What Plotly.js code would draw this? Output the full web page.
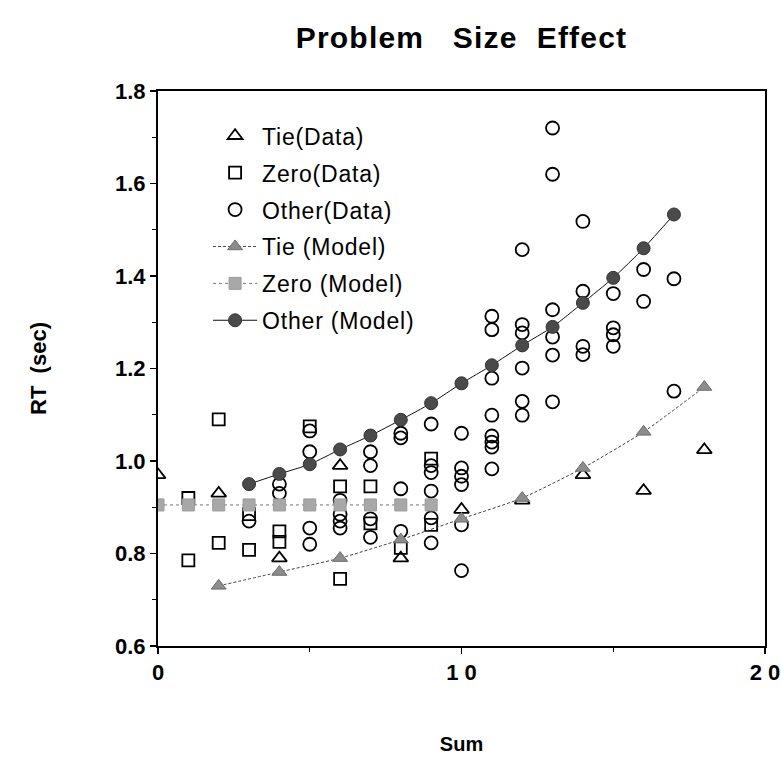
<!DOCTYPE html>
<html>
<head>
<meta charset="utf-8">
<script src="https://cdn.plot.ly/plotly-3.0.1.min.js"></script>
<style>
body{margin:0;padding:0;background:#fff;}
.legendtext{letter-spacing:0.8px;}
.gtitle{letter-spacing:1.2px;}
</style>
</head>
<body>
<div id="chart" style="width:781px;height:757px;"></div>
<script>
// Tie problems (data)
const tieX = [0, 2, 4, 6, 8, 10, 12, 14, 16, 18];
const tieY = [0.97, 0.93, 0.79, 0.99, 0.79, 0.895, 0.915, 0.97, 0.936, 1.024];

// Zero problems (data)
const zeroX = [1, 1, 2, 2, 3, 3, 4, 4, 5, 6, 6, 7, 7, 8, 9, 9];
const zeroY = [0.92, 0.785, 1.09, 0.823, 0.885, 0.808, 0.848, 0.825, 1.075, 0.945, 0.745, 0.945, 0.865, 0.812, 1.005, 0.862];

// Other problems (data)
const otherX = [3,
  4, 4,
  5, 5, 5, 5,
  6, 6, 6, 6,
  7, 7, 7, 7,
  8, 8, 8, 8,
  9, 9, 9, 9, 9, 9,
  10, 10, 10, 10, 10, 10,
  11, 11, 11, 11, 11, 11, 11, 11,
  12, 12, 12, 12, 12, 12,
  13, 13, 13, 13, 13, 13,
  14, 14, 14, 14,
  15, 15, 15, 15,
  16, 16,
  17, 17];
const otherY = [0.87,
  0.95, 0.93,
  1.065, 1.02, 0.855, 0.82,
  0.915, 0.885, 0.87, 0.855,
  1.02, 0.99, 0.875, 0.835,
  1.06, 1.05, 0.94, 0.848,
  1.08, 0.99, 0.975, 0.935, 0.877, 0.823,
  1.06, 0.985, 0.967, 0.949, 0.862, 0.763,
  1.313, 1.284, 1.179, 1.099, 1.054, 1.041, 1.03, 0.983,
  1.457, 1.295, 1.277, 1.201, 1.129, 1.099,
  1.72, 1.62, 1.327, 1.268, 1.229, 1.128,
  1.518, 1.367, 1.248, 1.23,
  1.362, 1.288, 1.273, 1.248,
  1.414, 1.345,
  1.394, 1.151];

// Model predictions
const tieModelX = [2, 4, 6, 8, 10, 12, 14, 16, 18];
const tieModelY = [0.73, 0.76, 0.79, 0.83, 0.875, 0.92, 0.985, 1.063, 1.16];
const zeroModelX = [0, 1, 2, 3, 4, 5, 6, 7, 8, 9];
const zeroModelY = [0.905, 0.905, 0.905, 0.905, 0.905, 0.905, 0.905, 0.905, 0.905, 0.905];
const otherModelX = [3, 4, 5, 6, 7, 8, 9, 10, 11, 12, 13, 14, 15, 16, 17];
const otherModelY = [0.95, 0.972, 0.993, 1.025, 1.055, 1.089, 1.125, 1.168, 1.207, 1.25, 1.29, 1.342, 1.396, 1.46, 1.533];

const seriesNames = ['Tie(Data)', 'Zero(Data)', 'Other(Data)', 'Tie (Model)', 'Zero (Model)', 'Other (Model)'];
const xTickVals = [0, 10, 20];
const xTickText = ['0', '1\u00a00', '2\u00a00'];

const FONT = 'Liberation Sans, Arial, sans-serif';
const openMarker = (sym, size) => ({symbol: sym, size: size, color: '#000', line: {color: '#000', width: 1.8}});

const traces = [
  {x: tieX, y: tieY, name: seriesNames[0], mode: 'markers', legendgroup: 'a',
   marker: openMarker('triangle-up-open', 13)},
  {x: zeroX, y: zeroY, name: seriesNames[1], mode: 'markers', legendgroup: 'b',
   marker: openMarker('square-open', 12)},
  {x: otherX, y: otherY, name: seriesNames[2], mode: 'markers', legendgroup: 'c',
   marker: openMarker('circle-open', 13)},
  {x: tieModelX, y: tieModelY, name: seriesNames[3], mode: 'lines+markers', legendgroup: 'd',
   line: {color: '#444', width: 1, dash: '3px,2px', shape: 'spline', smoothing: 0.6},
   marker: {symbol: 'triangle-up', size: 13, color: '#8c8c8c', line: {color: '#6e6e6e', width: 1}}},
  {x: zeroModelX, y: zeroModelY, name: seriesNames[4], mode: 'lines+markers', legendgroup: 'e',
   line: {color: '#777', width: 1, dash: 'dot'},
   marker: {symbol: 'square', size: 12, color: '#a8a8a8', line: {color: '#9a9a9a', width: 1}}},
  {x: otherModelX, y: otherModelY, name: seriesNames[5], mode: 'lines+markers', legendgroup: 'f',
   line: {color: '#111', width: 1, shape: 'spline', smoothing: 0.6},
   marker: {symbol: 'circle', size: 13, color: '#4a4a4a', line: {color: '#333', width: 1}}}
];

const tickFont = {family: FONT, size: 22, color: '#000', weight: 'bold'};

const layout = {
  width: 781, height: 757,
  margin: {l: 158, r: 16, t: 91, b: 111},
  paper_bgcolor: '#fff', plot_bgcolor: '#fff',
  font: {family: FONT, color: '#000'},
  title: {text: 'Problem\u00a0\u00a0\u00a0Size\u00a0\u00a0Effect', x: 0.5, xref: 'paper', y: 0.951, yref: 'container', yanchor: 'middle',
          font: {family: FONT, size: 30, weight: 'bold', color: '#000'}},
  xaxis: {range: [0, 20], tickvals: xTickVals, ticktext: xTickText, ticks: 'outside', ticklen: 6, tickwidth: 1.5,
          tickcolor: '#000', showgrid: false, zeroline: false, showline: true, linecolor: '#000', linewidth: 2, mirror: true,
          tickfont: tickFont,
          minor: {tickvals: [5, 15], ticks: 'outside', ticklen: 4, tickcolor: '#000', tickwidth: 1},
          title: {text: 'Sum', standoff: 53, font: {family: FONT, size: 20, weight: 'bold', color: '#000'}}},
  yaxis: {range: [0.6, 1.8], dtick: 0.2, tick0: 0.6, tickformat: '.1f', ticks: 'outside', ticklen: 6, tickwidth: 1.5,
          tickcolor: '#000', showgrid: false, zeroline: false, showline: true, linecolor: '#000', linewidth: 2, mirror: true,
          tickfont: tickFont,
          minor: {dtick: 0.1, ticks: 'outside', ticklen: 4, tickcolor: '#000', tickwidth: 1},
          title: {text: 'RT\u00a0\u00a0(sec)', standoff: 62, font: {family: FONT, size: 22, weight: 'bold', color: '#000'}}},
  showlegend: true,
  legend: {x: 0.0825, y: 0.958, xanchor: 'left', yanchor: 'top', bgcolor: 'rgba(0,0,0,0)', borderwidth: 0,
           tracegroupgap: 4, itemwidth: 44,
           font: {family: FONT, size: 23, color: '#000'}}
};

Plotly.newPlot('chart', traces, layout, {staticPlot: true, displayModeBar: false});
</script>
</body>
</html>
